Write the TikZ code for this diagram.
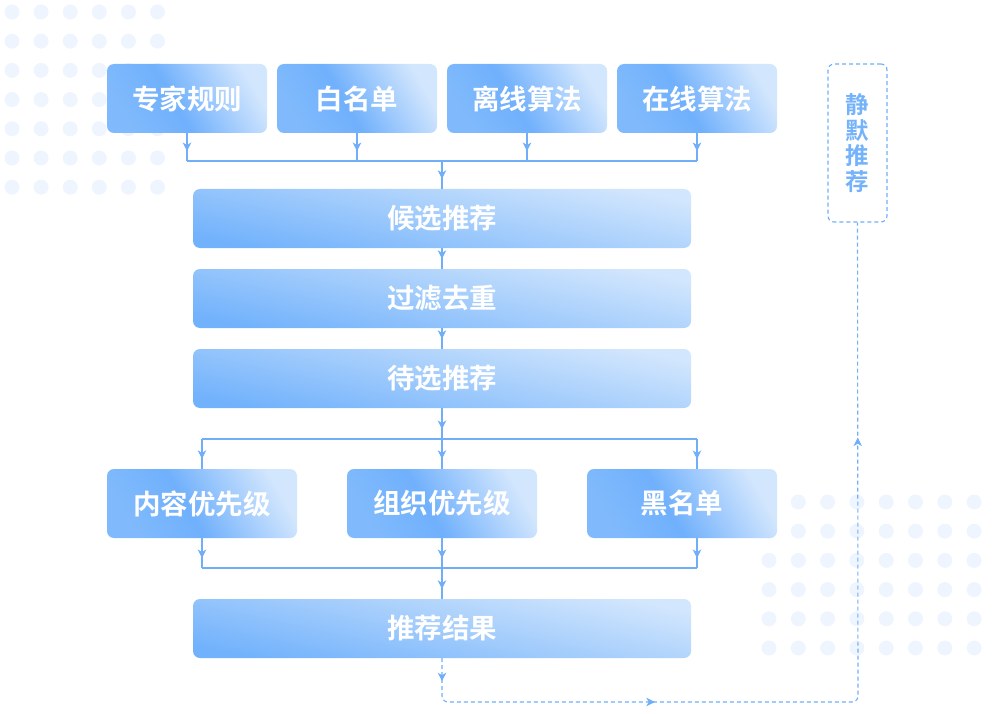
\documentclass[tikz,border=0pt]{standalone}
\usepackage{fontspec}
\newfontfamily\cjkb{Noto Sans CJK SC Bold}
\usetikzlibrary{arrows.meta,decorations.markings,calc}

\definecolor{lineblue}{HTML}{70AEF8}
\definecolor{dotc}{HTML}{EEF5FE}
\definecolor{txtblue}{HTML}{74B2FA}
\definecolor{sa}{HTML}{80BAFC}
\definecolor{sb}{HTML}{70B0FC}
\definecolor{sc}{HTML}{A8CFFD}
\definecolor{sd}{HTML}{D2E6FD}
\definecolor{wa}{HTML}{72B2FC}
\definecolor{wb}{HTML}{A2CCFC}
\definecolor{wc}{HTML}{D2E6FD}

\pgfdeclarehorizontalshading{smallsh}{100bp}{color(0bp)=(sa); color(25bp)=(sa); color(45bp)=(sb); color(62bp)=(sc); color(75bp)=(sd); color(100bp)=(sd)}
\pgfdeclareverticalshading{widesh}{100bp}{color(0bp)=(wa); color(25bp)=(wa); color(50bp)=(wb); color(75bp)=(wc); color(100bp)=(wc)}

\tikzset{
  box/.style={shade, shading=smallsh, shading angle=30, rounded corners=7pt,
    minimum width=160pt, minimum height=69pt, inner sep=0pt, text=white,
    font=\cjkb\fontsize{27.5}{27.5}\selectfont},
  midbox/.style={box, minimum width=190pt},
  widebox/.style={box, shading=widesh, shading angle=-12, minimum width=498pt, minimum height=59pt},
  conn/.style={draw=lineblue, line width=1.1pt},
  arr/.style={conn, postaction=decorate, decoration={markings,
    mark=at position -10pt with {\arrow[lineblue]{Stealth[length=8.5pt,width=8.5pt,inset=2.5pt]}}}},
  dconn/.style={draw=lineblue, line width=1.1pt, dash pattern=on 4pt off 3pt, rounded corners=6pt},
  silentbox/.style={draw=lineblue, line width=1.1pt, dash pattern=on 4pt off 3pt, rounded corners=6pt,
    minimum width=59pt, minimum height=158pt, inner sep=0pt, text=txtblue, align=center,
    font=\cjkb\fontsize{23.5}{25.5}\selectfont},
  dot/.style={fill=dotc, draw=none}
}

\begin{document}
\begin{tikzpicture}[x=1pt,y=-1pt]
\useasboundingbox (0,0) rectangle (993,714);

% decorative dot grids
\foreach \i in {0,...,5} {
  \foreach \j in {0,...,6} {
    \fill[dot] ({12+29.1*\i},{12+29.2*\j}) circle (7.5pt);
  }
}
\foreach \i in {0,...,7} {
  \foreach \j in {0,...,5} {
    \fill[dot] ({769+29.3*\i},{502+29.2*\j}) circle (7.5pt);
  }
}

% top row
\node[box] (t1) at (187,98.5) {专家规则};
\node[box] (t2) at (357,98.5) {白名单};
\node[box] (t3) at (527,98.5) {离线算法};
\node[box] (t4) at (697,98.5) {在线算法};

% main column
\node[widebox] (c1) at (442,218.5) {候选推荐};
\node[widebox] (c2) at (442,298.5) {过滤去重};
\node[widebox] (c3) at (442,378.5) {待选推荐};

% middle row
\node[midbox] (m1) at (202,503.5) {内容优先级};
\node[midbox] (m2) at (442,503.5) {组织优先级};
\node[midbox] (m3) at (682,503.5) {黑名单};

\node[widebox] (res) at (442,628.5) {推荐结果};

% silent recommendation
\node[silentbox] (sil) at (857.5,143) {静\\默\\推\\荐};

% junction coordinates
\coordinate (j1) at (442,161);
\coordinate (j2) at (442,439);
\coordinate (j3) at (442,568);
\coordinate (m3in) at (697,469);
\coordinate (m3out) at (697,538);
\coordinate (lb) at (442,702);
\coordinate (rb) at (858,702);

% top connectors
\foreach \n in {t1,t2,t3,t4} {
  \draw[arr] (\n.south) -- (\n.south |- j1);
}
\draw[conn] (t1.south |- j1) -- (t4.south |- j1);
\draw[arr] (j1) -- (c1.north);
\draw[arr] (c1.south) -- (c2.north);
\draw[arr] (c2.south) -- (c3.north);

% split to middle row
\draw[arr] (c3.south) -- (j2);
\draw[conn] (m1.north |- j2) -- (m3in |- j2);
\draw[arr] (m1.north |- j2) -- (m1.north);
\draw[arr] (j2) -- (m2.north);
\draw[arr] (m3in |- j2) -- (m3in);

% merge to result
\draw[arr] (m1.south) -- (m1.south |- j3);
\draw[arr] (m2.south) -- (j3);
\draw[arr] (m3out) -- (m3out |- j3);
\draw[conn] (m1.south |- j3) -- (m3out |- j3);
\draw[arr] (j3) -- (res.north);

% dashed feedback loop
\draw[dconn, postaction=decorate, decoration={markings,
    mark=at position 23pt with {\arrow[lineblue]{Stealth[length=8.5pt,width=8.5pt,inset=2.5pt]}},
    mark=at position 254pt with {\arrow[lineblue]{Stealth[length=8.5pt,width=8.5pt,inset=2.5pt]}},
    mark=at position 719pt with {\arrow[lineblue]{Stealth[length=8.5pt,width=8.5pt,inset=2.5pt]}}}]
  (res.south) -- (lb) -- (rb) -- (sil.south);

\end{tikzpicture}
\end{document}
